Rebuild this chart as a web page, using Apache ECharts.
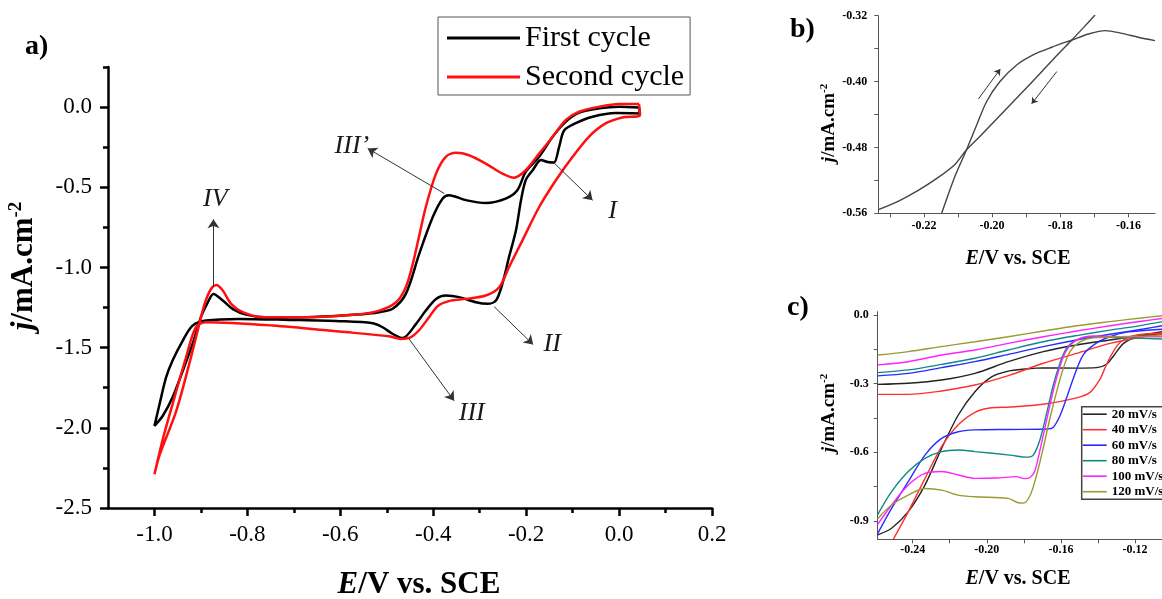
<!DOCTYPE html>
<html><head><meta charset="utf-8">
<script src="https://cdn.jsdelivr.net/npm/echarts@6/dist/echarts.min.js"></script>
<style>html,body{margin:0;padding:0;background:#fff}#c{width:1162px;height:599px}</style>
</head><body><div id="c"></div>
<script>
// ---------- Panel a: CV, two cycles (E / V, j / mA cm-2) ----------
const firstCycle = [[0.043,-0.002],[0.045,-0.04],[-0.007,-0.037],[-0.057,-0.06],[-0.093,-0.10],[-0.118,-0.145],[-0.129,-0.248],[-0.140,-0.345],[-0.154,-0.342],[-0.168,-0.33],[-0.186,-0.394],[-0.201,-0.456],[-0.211,-0.58],[-0.222,-0.77],[-0.237,-0.936],[-0.251,-1.10],[-0.265,-1.206],[-0.283,-1.227],[-0.308,-1.217],[-0.344,-1.185],[-0.373,-1.175],[-0.394,-1.196],[-0.416,-1.269],[-0.437,-1.352],[-0.466,-1.44],[-0.487,-1.415],[-0.509,-1.373],[-0.530,-1.348],[-0.602,-1.335],[-0.710,-1.327],[-0.817,-1.321],[-0.889,-1.331],[-0.918,-1.363],[-0.939,-1.456],[-0.961,-1.58],[-0.975,-1.686],[-0.989,-1.852],[-1.0,-1.988],[-0.982,-1.925],[-0.961,-1.81],[-0.939,-1.644],[-0.918,-1.477],[-0.90,-1.31],[-0.885,-1.217],[-0.873,-1.165],[-0.853,-1.206],[-0.832,-1.258],[-0.803,-1.294],[-0.760,-1.31],[-0.674,-1.31],[-0.566,-1.294],[-0.516,-1.279],[-0.4875,-1.258],[-0.459,-1.165],[-0.430,-0.914],[-0.401,-0.686],[-0.380,-0.571],[-0.366,-0.55],[-0.330,-0.58],[-0.287,-0.598],[-0.244,-0.571],[-0.219,-0.519],[-0.201,-0.404],[-0.172,-0.31],[-0.143,-0.185],[-0.115,-0.092],[-0.086,-0.035],[-0.043,-0.008],[0.0,0.002],[0.043,-0.002]];
const secondCycle = [[0.043,0.019],[0.045,-0.05],[0.007,-0.065],[-0.029,-0.102],[-0.065,-0.185],[-0.100,-0.31],[-0.136,-0.456],[-0.172,-0.623],[-0.208,-0.831],[-0.237,-0.998],[-0.258,-1.123],[-0.287,-1.175],[-0.330,-1.196],[-0.366,-1.21],[-0.390,-1.24],[-0.409,-1.31],[-0.430,-1.39],[-0.450,-1.438],[-0.470,-1.446],[-0.495,-1.429],[-0.602,-1.40],[-0.746,-1.362],[-0.889,-1.341],[-0.911,-1.373],[-0.932,-1.56],[-0.961,-1.852],[-0.982,-2.07],[-1.0,-2.29],[-0.989,-2.17],[-0.953,-1.894],[-0.925,-1.60],[-0.907,-1.394],[-0.892,-1.227],[-0.878,-1.133],[-0.867,-1.11],[-0.853,-1.144],[-0.835,-1.227],[-0.810,-1.279],[-0.767,-1.31],[-0.674,-1.31],[-0.566,-1.294],[-0.516,-1.269],[-0.480,-1.217],[-0.459,-1.123],[-0.444,-0.977],[-0.430,-0.80],[-0.416,-0.623],[-0.394,-0.415],[-0.373,-0.31],[-0.351,-0.285],[-0.323,-0.30],[-0.287,-0.352],[-0.251,-0.415],[-0.226,-0.44],[-0.201,-0.394],[-0.172,-0.29],[-0.143,-0.185],[-0.115,-0.081],[-0.086,-0.029],[-0.043,0.002],[0.0,0.019],[0.043,0.019]];
const aArrows = [[[-0.873,-1.12],[-0.873,-0.70]],[[-0.376,-0.539],[-0.541,-0.258]],[[-0.140,-0.348],[-0.057,-0.581]],[[-0.269,-1.244],[-0.185,-1.481]],[[-0.452,-1.446],[-0.355,-1.831]]];
const aLabelNames = ['IV','III\u2019','I','II','III'];
const aLabelCoords = [[-0.869,-0.575],[-0.575,-0.241],[-0.014,-0.65],[-0.144,-1.481],[-0.317,-1.909]];
const aXMajor = [-1.0,-0.8,-0.6,-0.4,-0.2,0.0,0.2];
const aXMinor = [-0.9,-0.7,-0.5,-0.3,-0.1,0.1];
const aYMajor = [0.0,-0.5,-1.0,-1.5,-2.0,-2.5];
const aYMinor = [0.25,-0.25,-0.75,-1.25,-1.75,-2.25];

// ---------- Panel b ----------
const bForward = [[-0.2148,-0.56],[-0.2109,-0.5151],[-0.2075,-0.4828],[-0.2045,-0.4525],[-0.2016,-0.4242],[-0.1977,-0.4000],[-0.1928,-0.3798],[-0.1874,-0.3664],[-0.1825,-0.3583],[-0.1766,-0.3495],[-0.1717,-0.3422],[-0.1668,-0.3381],[-0.1619,-0.3414],[-0.1571,-0.3462],[-0.1522,-0.3503]];
const bReverse = [[-0.2334,-0.5555],[-0.2276,-0.5454],[-0.2217,-0.5321],[-0.2158,-0.5163],[-0.2109,-0.5006],[-0.2075,-0.4828],[-0.2031,-0.4646],[-0.1972,-0.4392],[-0.1913,-0.4137],[-0.1854,-0.3878],[-0.1806,-0.3664],[-0.1766,-0.3495],[-0.1732,-0.3345],[-0.1698,-0.3192]];
const bArrows = [[[-0.2040,-0.4210],[-0.1976,-0.3848]],[[-0.1810,-0.3878],[-0.1884,-0.4270]]];
const bXTicks = [-0.23,-0.22,-0.21,-0.20,-0.19,-0.18,-0.17,-0.16];
const bXLabels = [-0.22,-0.20,-0.18,-0.16];
const bYTicks = [-0.56,-0.52,-0.48,-0.44,-0.40,-0.36,-0.32];
const bYLabels = [-0.56,-0.48,-0.40,-0.32];

// ---------- Panel c: scan rates ----------
const rates = ['20 mV/s','40 mV/s','60 mV/s','80 mV/s','100 mV/s','120 mV/s'];
const up20 = [[-0.2589,-0.303],[-0.2424,-0.298],[-0.2244,-0.284],[-0.2064,-0.255],[-0.1884,-0.204],[-0.1695,-0.160],[-0.1515,-0.131],[-0.1335,-0.109],[-0.1155,-0.087],[-0.1054,-0.073]];
const up40 = [[-0.2589,-0.347],[-0.2424,-0.347],[-0.2244,-0.332],[-0.2064,-0.306],[-0.1884,-0.265],[-0.1695,-0.211],[-0.1515,-0.168],[-0.1335,-0.124],[-0.1155,-0.095],[-0.1054,-0.084]];
const up60 = [[-0.2589,-0.266],[-0.2424,-0.255],[-0.2244,-0.230],[-0.2064,-0.204],[-0.1884,-0.172],[-0.1695,-0.138],[-0.1515,-0.109],[-0.1335,-0.084],[-0.1155,-0.061],[-0.1054,-0.047]];
const up80 = [[-0.2589,-0.252],[-0.2424,-0.240],[-0.2244,-0.216],[-0.2064,-0.189],[-0.1884,-0.153],[-0.1695,-0.117],[-0.1515,-0.090],[-0.1335,-0.066],[-0.1155,-0.044],[-0.1054,-0.029]];
const up100 = [[-0.2589,-0.218],[-0.2424,-0.204],[-0.2244,-0.175],[-0.2064,-0.153],[-0.1884,-0.124],[-0.1695,-0.095],[-0.1515,-0.070],[-0.1335,-0.047],[-0.1155,-0.026],[-0.1054,-0.015]];
const up120 = [[-0.2589,-0.175],[-0.2424,-0.160],[-0.2244,-0.138],[-0.2064,-0.117],[-0.1884,-0.095],[-0.1695,-0.070],[-0.1515,-0.047],[-0.1335,-0.029],[-0.1155,-0.012],[-0.1054,-0.003]];
const low20 = [[-0.2589,-0.961],[-0.2514,-0.932],[-0.2424,-0.859],[-0.2334,-0.743],[-0.2244,-0.583],[-0.2154,-0.437],[-0.2064,-0.335],[-0.1974,-0.270],[-0.1884,-0.245],[-0.1794,-0.236],[-0.1695,-0.231],[-0.1515,-0.232],[-0.1407,-0.230],[-0.1353,-0.215],[-0.1317,-0.180],[-0.1263,-0.125],[-0.1191,-0.095],[-0.1119,-0.088],[-0.1054,-0.082]];
const low40 = [[-0.2505,-0.98],[-0.2424,-0.86],[-0.2334,-0.715],[-0.2244,-0.575],[-0.2154,-0.48],[-0.2064,-0.425],[-0.1974,-0.405],[-0.1875,-0.402],[-0.1695,-0.39],[-0.1515,-0.362],[-0.1443,-0.338],[-0.1389,-0.28],[-0.1353,-0.215],[-0.1317,-0.16],[-0.1281,-0.12],[-0.121,-0.09],[-0.1054,-0.08]];
const low60 = [[-0.2589,-0.955],[-0.2514,-0.845],[-0.2424,-0.728],[-0.2334,-0.612],[-0.2244,-0.539],[-0.2154,-0.510],[-0.2064,-0.502],[-0.1875,-0.500],[-0.1677,-0.498],[-0.1641,-0.490],[-0.1605,-0.44],[-0.157,-0.364],[-0.1533,-0.277],[-0.148,-0.175],[-0.1407,-0.122],[-0.1335,-0.095],[-0.1245,-0.075],[-0.1054,-0.062]];
const low80 = [[-0.2589,-0.872],[-0.2514,-0.772],[-0.2424,-0.684],[-0.2334,-0.626],[-0.2244,-0.597],[-0.2154,-0.590],[-0.2064,-0.597],[-0.1875,-0.612],[-0.1785,-0.621],[-0.1749,-0.612],[-0.1713,-0.545],[-0.1677,-0.43],[-0.1641,-0.306],[-0.1605,-0.211],[-0.157,-0.146],[-0.1515,-0.109],[-0.1425,-0.095],[-0.1245,-0.100],[-0.1054,-0.105]];
const low100 = [[-0.2589,-0.915],[-0.2514,-0.830],[-0.2424,-0.743],[-0.2334,-0.692],[-0.2244,-0.684],[-0.2154,-0.699],[-0.2064,-0.714],[-0.1946,-0.712],[-0.1839,-0.706],[-0.1800,-0.715],[-0.1767,-0.71],[-0.1740,-0.68],[-0.1713,-0.59],[-0.1677,-0.46],[-0.1641,-0.33],[-0.1605,-0.225],[-0.157,-0.155],[-0.1515,-0.11],[-0.1425,-0.092],[-0.1245,-0.095],[-0.1054,-0.095]];
const low120 = [[-0.2589,-0.89],[-0.2514,-0.830],[-0.2424,-0.787],[-0.2334,-0.758],[-0.2244,-0.765],[-0.2154,-0.787],[-0.2064,-0.794],[-0.1884,-0.801],[-0.1839,-0.818],[-0.1803,-0.822],[-0.1767,-0.79],[-0.1731,-0.70],[-0.1695,-0.58],[-0.1659,-0.451],[-0.1623,-0.335],[-0.1587,-0.233],[-0.1551,-0.160],[-0.1497,-0.117],[-0.1425,-0.100],[-0.1054,-0.092]];
const cUpper = [up20,up40,up60,up80,up100,up120];
const cLower = [low20,low40,low60,low80,low100,low120];
const cXTicks = [-0.24,-0.22,-0.20,-0.18,-0.16,-0.14,-0.12];
const cXLabels = [-0.24,-0.20,-0.16,-0.12];
const cYTicks = [0.0,-0.15,-0.3,-0.45,-0.6,-0.75,-0.9];
const cYLabels = [0.0,-0.3,-0.6,-0.9];

// ---------- styling ----------
const FONT = 'Liberation Serif';
const cColors = ['#222222','#ff3030','#2a2aff','#118888','#ff22ff','#9a9a30'];

function axisBase(o) {
  return Object.assign({type:'value', splitLine:{show:false}}, o);
}
const aAxisLine = {onZero:false, lineStyle:{color:'#000', width:2.5}};
const hiddenLine = {show:false, onZero:false};
const aLabel = {fontFamily:FONT, fontSize:23, color:'#000'};
const smallAxisLine = {onZero:false, lineStyle:{color:'#555', width:1}};
const smallTick = {length:4, lineStyle:{color:'#555', width:1}};
const smallLabel = {fontFamily:FONT, fontSize:12, fontWeight:'bold', color:'#000'};

const xAxis = [
  axisBase({gridIndex:0, min:-1.1, max:0.2, position:'bottom', axisLine:aAxisLine,
    axisTick:{customValues:aXMajor, length:8, lineStyle:{color:'#000', width:2.5}},
    axisLabel:Object.assign({customValues:aXMajor, margin:15, formatter:v=>v.toFixed(1)}, aLabel)}),
  axisBase({gridIndex:0, min:-1.1, max:0.2, position:'bottom', axisLine:hiddenLine,
    axisTick:{customValues:aXMinor, length:5, lineStyle:{color:'#000', width:2.5}}, axisLabel:{show:false}}),
  axisBase({gridIndex:1, min:-0.2334, max:-0.1522, position:'bottom', axisLine:smallAxisLine,
    axisTick:Object.assign({customValues:bXTicks}, smallTick),
    axisLabel:Object.assign({customValues:bXLabels, margin:7, formatter:v=>v.toFixed(2)}, smallLabel)}),
  axisBase({gridIndex:2, min:-0.25889, max:-0.10542, position:'bottom', axisLine:smallAxisLine,
    axisTick:Object.assign({customValues:cXTicks}, smallTick),
    axisLabel:Object.assign({customValues:cXLabels, margin:5, formatter:v=>v.toFixed(2)}, smallLabel)})
];
const yAxis = [
  axisBase({gridIndex:0, min:-2.5, max:0.25, position:'left', axisLine:aAxisLine,
    axisTick:{customValues:aYMajor, length:8, lineStyle:{color:'#000', width:2.5}},
    axisLabel:Object.assign({customValues:aYMajor, margin:16, formatter:v=>v.toFixed(1)}, aLabel)}),
  axisBase({gridIndex:0, min:-2.5, max:0.25, position:'left', axisLine:hiddenLine,
    axisTick:{customValues:aYMinor, length:5, lineStyle:{color:'#000', width:2.5}}, axisLabel:{show:false}}),
  axisBase({gridIndex:1, min:-0.56, max:-0.32, position:'left', axisLine:smallAxisLine,
    axisTick:Object.assign({customValues:bYTicks}, smallTick),
    axisLabel:Object.assign({customValues:bYLabels, margin:11, formatter:v=>v.toFixed(2)}, smallLabel)}),
  axisBase({gridIndex:2, min:-0.98, max:0.0144, position:'left', axisLine:smallAxisLine,
    axisTick:Object.assign({customValues:cYTicks}, smallTick),
    axisLabel:Object.assign({customValues:cYLabels, margin:9, formatter:v=>v.toFixed(1)}, smallLabel)})
];

function arrowMarkLine(list, size, color) {
  return {silent:true, animation:false, symbol:['none','arrow'], symbolSize:size,
    lineStyle:{color:color, width:1, type:'solid'}, label:{show:false},
    emphasis:{disabled:true},
    data:list.map(p=>[{coord:p[0]},{coord:p[1]}])};
}

const series = [
  {type:'line', name:'First cycle', xAxisIndex:0, yAxisIndex:0, data:firstCycle, symbol:'none', showSymbol:false,
   smooth:0.3, lineStyle:{color:'#000', width:2.5}, itemStyle:{color:'#000'}, z:3,
   markLine:arrowMarkLine(aArrows, 9, '#333'),
   markPoint:{silent:true, animation:false, symbol:'circle', symbolSize:0.1,
     label:{show:true, position:'inside', formatter:'{b}', fontFamily:FONT, fontStyle:'italic', fontSize:26, color:'#1a1a1a'},
     data:aLabelNames.map((n,i)=>({name:n, coord:aLabelCoords[i]}))}},
  {type:'line', name:'Second cycle', xAxisIndex:0, yAxisIndex:0, data:secondCycle, symbol:'none', showSymbol:false,
   smooth:0.3, lineStyle:{color:'#ff1010', width:2.5}, itemStyle:{color:'#ff1010'}, z:4},
  {type:'line', name:'b-forward', xAxisIndex:2, yAxisIndex:2, data:bForward, symbol:'none', smooth:0.3,
   lineStyle:{color:'#444', width:1.4}, markLine:arrowMarkLine(bArrows, 6, '#333')},
  {type:'line', name:'b-reverse', xAxisIndex:2, yAxisIndex:2, data:bReverse, symbol:'none', smooth:0.3,
   lineStyle:{color:'#444', width:1.4}}
];
rates.forEach((r,i)=>{
  series.push({type:'line', name:r, xAxisIndex:3, yAxisIndex:3, data:cUpper[i], symbol:'none', smooth:0.3,
    lineStyle:{color:cColors[i], width:1.4}, itemStyle:{color:cColors[i]}});
  series.push({type:'line', name:r, xAxisIndex:3, yAxisIndex:3, data:cLower[i], symbol:'none', smooth:0.3,
    lineStyle:{color:cColors[i], width:1.4}, itemStyle:{color:cColors[i]}});
});

const boldE = {fontFamily:FONT, fontWeight:'bold', fontStyle:'italic'};
const boldN = {fontFamily:FONT, fontWeight:'bold'};
function xTitle(x, y, size) {
  return {type:'text', x:x, y:y, z:100, style:{text:'{e|E}{n|/V vs. SCE}', align:'center', verticalAlign:'middle',
    rich:{e:Object.assign({fontSize:size}, boldE), n:Object.assign({fontSize:size}, boldN)}}};
}
function yTitle(x, y, size) {
  const lh = Math.round(size*1.05), sl = Math.round(size*0.5);
  return {type:'text', x:x, y:y, rotation:Math.PI/2, z:100, style:{text:'{j|j}{n|/mA.cm}{s|-2}', align:'center', verticalAlign:'middle',
    rich:{j:Object.assign({fontSize:size, lineHeight:lh, verticalAlign:'bottom'}, boldE),
          n:Object.assign({fontSize:size, lineHeight:lh, verticalAlign:'bottom'}, boldN),
          s:Object.assign({fontSize:Math.round(size*0.6), lineHeight:sl, verticalAlign:'top'}, boldN)}}};
}
function panelTag(t, x, y, size) {
  return {type:'text', x:x, y:y, z:100, style:{text:t, align:'left', verticalAlign:'middle', fontFamily:FONT, fontWeight:'bold', fontSize:size, fill:'#000'}};
}

const option = {
  animation:false,
  backgroundColor:'#fff',
  grid:[
    {left:108, top:67, width:604, height:441},
    {left:878.3, top:15.7, width:276.7, height:197.6},
    {left:877.7, top:311.7, width:284.3, height:227.6}
  ],
  xAxis:xAxis,
  yAxis:yAxis,
  legend:[
    {data:['First cycle','Second cycle'], orient:'vertical', left:438, top:17, padding:[6,6,3,9], itemGap:9,
     icon:'rect', itemWidth:73, itemHeight:3, borderColor:'#555', borderWidth:1, backgroundColor:'#fff', selectedMode:false,
     textStyle:{fontFamily:FONT, fontSize:30, lineHeight:30, color:'#000'}},
    {data:rates, orient:'vertical', left:1081.7, top:406.7, padding:[1,3,1,1], itemGap:2.5,
     icon:'rect', itemWidth:24, itemHeight:1.6, borderColor:'#444', borderWidth:1.5, backgroundColor:'#fff', selectedMode:false,
     textStyle:{fontFamily:FONT, fontSize:13, fontWeight:'bold', lineHeight:13, color:'#000'}}
  ],
  graphic:[
    panelTag('a)', 25, 47, 28),
    xTitle(419, 585, 31),
    yTitle(23, 266, 31),
    panelTag('b)', 790, 30, 28),
    xTitle(1018, 259, 20),
    yTitle(829, 123, 19),
    panelTag('c)', 787, 308, 28),
    xTitle(1018, 578.5, 20),
    yTitle(829, 413, 19)
  ],
  series:series
};
const chart = echarts.init(document.getElementById('c'));
chart.setOption(option);
</script>
</body></html>
